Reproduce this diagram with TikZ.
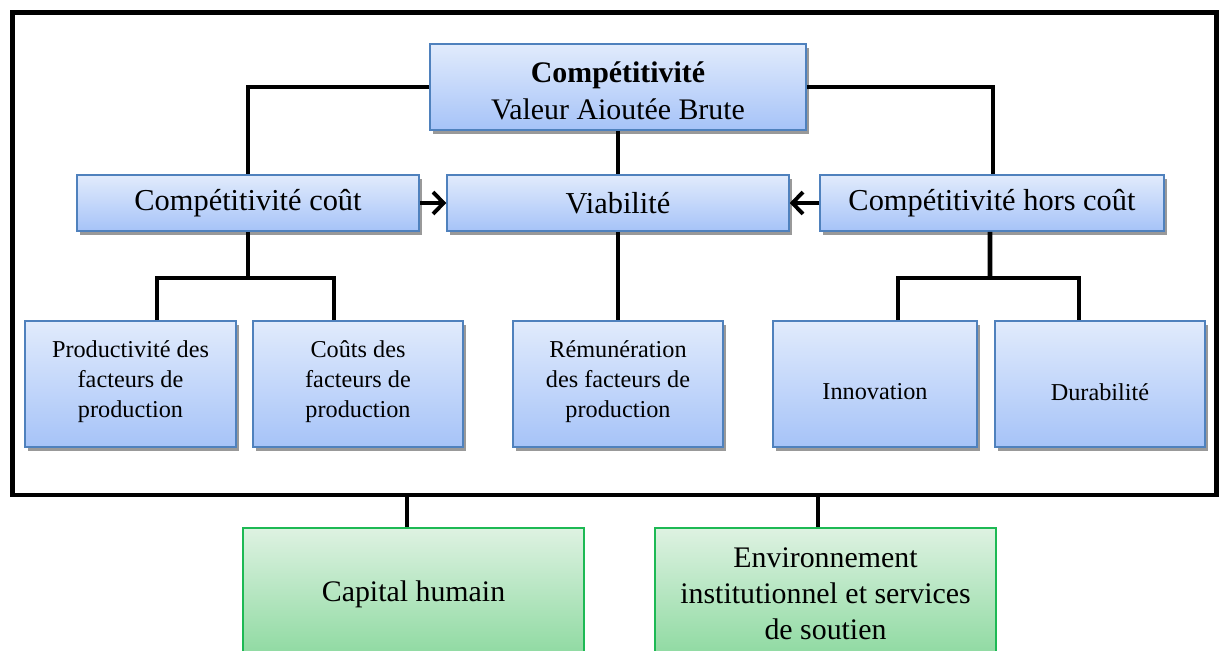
\documentclass[tikz,border=0pt]{standalone}
\usepackage{fontspec}
\setmainfont{Liberation Serif}
\usetikzlibrary{arrows.meta,shadows}

\definecolor{bleuhaut}{HTML}{E1EBFC}
\definecolor{bleubas}{HTML}{A6C3F8}
\definecolor{bleubord}{HTML}{4F81BD}
\definecolor{verthaut}{HTML}{DEF2E2}
\definecolor{vertbas}{HTML}{8CD99F}
\definecolor{vertbord}{HTML}{1DB954}

\newcommand{\decale}[2]{\raisebox{#1}[\height][\depth]{#2}}

\begin{document}
\begin{tikzpicture}[x=0.02cm, y=-0.02cm,
  bleu/.style={draw=bleubord, line width=0.9pt, shading=axis, top color=bleuhaut,
    bottom color=bleubas, align=center, inner sep=2pt,
    drop shadow={shadow xshift=1.6pt, shadow yshift=-2.2pt, fill=black!40, opacity=1}},
  vert/.style={draw=vertbord, line width=0.9pt, shading=axis, top color=verthaut,
    bottom color=vertbas, align=center, minimum width=6.82cm, minimum height=2.64cm,
    font=\fontsize{17}{20.4}\selectfont},
  moyen/.style={bleu, minimum height=1.12cm, font=\fontsize{17.3}{20}\selectfont},
  petit/.style={bleu, minimum height=2.52cm, font=\fontsize{13.8}{17}\selectfont},
  lien/.style={line width=2.8pt},
  fleche/.style={line width=2.3pt, -{Straight Barb[length=6pt, width=12.5pt, line width=2.2pt]}}]
  \useasboundingbox (0,0) rectangle (1219,650);

  \node[draw, line width=2.8pt, minimum width=24.1cm, minimum height=9.66cm] (cadre) at (614.5,253.5) {};

  \node[bleu, minimum width=7.52cm, minimum height=1.72cm, font=\fontsize{17}{20}\selectfont]
    (comp) at (618,87) {\decale{-0.08cm}{\textbf{Compétitivité}}\\[1pt]\decale{-0.08cm}{Valeur Aioutée Brute}};

  \node[moyen, minimum width=6.84cm] (cout) at (248,203) {Compétitivité coût};
  \node[moyen, minimum width=6.84cm] (viab) at (618,203) {Viabilité};
  \node[moyen, minimum width=6.88cm] (hors) at (992,203) {Compétitivité hors coût};

  \node[petit, minimum width=4.22cm] (prod) at (130.5,384) {\decale{0.05cm}{Productivité des}\\\decale{0.05cm}{facteurs de}\\\decale{0.05cm}{production}};
  \node[petit, minimum width=4.2cm] (couts) at (358,384) {\decale{0.05cm}{Coûts des}\\\decale{0.05cm}{facteurs de}\\\decale{0.05cm}{production}};
  \node[petit, minimum width=4.2cm] (remu) at (618,384) {\decale{0.05cm}{Rémunération}\\\decale{0.05cm}{des facteurs de}\\\decale{0.05cm}{production}};
  \node[petit, minimum width=4.08cm] (innov) at (875,384) {\decale{-0.16cm}{Innovation}};
  \node[petit, minimum width=4.2cm] (durab) at (1100,384) {\decale{-0.16cm}{Durabilité}};

  \node[vert] (capital) at (413.5,594) {Capital humain};
  \node[vert] (envir) at (825.5,594) {Environnement\\institutionnel et services\\de soutien};

  \coordinate (jcout) at (248,278);
  \coordinate (jhors) at (990,278);

  \draw[lien] (comp.west) -| (cout.north);
  \draw[lien] (comp.east) -| ([xshift=0.02cm]hors.north);
  \draw[lien] (comp.south) -- (viab.north);
  \draw[lien] (cout.south) -- (jcout);
  \draw[lien] ([xshift=0.53cm]prod.north) |- (jcout) -| ([xshift=-0.48cm]couts.north);
  \draw[lien] (viab.south) -- (remu.north);
  \draw[lien] ([xshift=-0.04cm]hors.south) -- (jhors);
  \draw[lien] ([xshift=0.46cm]innov.north) |- (jhors) -| ([xshift=-0.42cm]durab.north);
  \draw[fleche] (cout.east) -- (viab.west);
  \draw[fleche] (hors.west) -- (viab.east);
  \draw[lien] ([xshift=-0.13cm]capital.north) -- ([xshift=-0.13cm]capital.north |- cadre.south);
  \draw[lien] ([xshift=-0.15cm]envir.north) -- ([xshift=-0.15cm]envir.north |- cadre.south);
\end{tikzpicture}
\end{document}
